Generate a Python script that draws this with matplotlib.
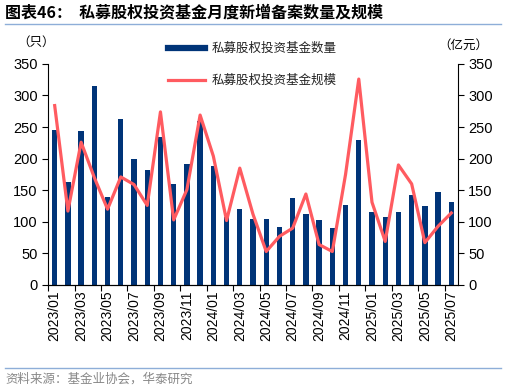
import numpy as np
import matplotlib.pyplot as plt
from matplotlib.lines import Line2D

plt.rcParams['font.family'] = ['Liberation Sans', 'Noto Sans CJK SC', 'DejaVu Sans']

months = ['2023/01', '2023/02', '2023/03', '2023/04', '2023/05', '2023/06', '2023/07', '2023/08',
          '2023/09', '2023/10', '2023/11', '2023/12', '2024/01', '2024/02', '2024/03', '2024/04',
          '2024/05', '2024/06', '2024/07', '2024/08', '2024/09', '2024/10', '2024/11', '2024/12',
          '2025/01', '2025/02', '2025/03', '2025/04', '2025/05', '2025/06', '2025/07']
count = [245, 163, 243, 315, 139, 262, 200, 182, 234, 160, 192, 259, 189, 107, 120, 104,
         104, 92, 137, 112, 103, 90, 126, 230, 115, 107, 115, 143, 125, 147, 131]
scale = [284, 117, 226, 170, 120, 171, 159, 126, 274, 103, 151, 269, 204, 102, 185, 112,
         53, 77, 90, 144, 64, 53, 175, 326, 131, 69, 190, 160, 67, 93, 114]

bar_color = '#003478'
line_color = '#FF5B60'
cjk = ['Noto Sans CJK SC', 'DejaVu Sans']

fig = plt.figure(figsize=(5.06, 3.92), dpi=100)
ax = fig.add_axes([0.095, 0.273, 0.81, 0.564])
ax2 = ax.twinx()

x = np.arange(len(months))
ax.bar(x, count, width=0.4, color=bar_color, zorder=2)
ax2.plot(x, scale, color=line_color, linewidth=2.3, zorder=3)

for a in (ax, ax2):
    a.set_ylim(0, 350)
    a.set_yticks(range(0, 351, 50))
    a.set_xlim(-0.5, len(months) - 0.5)
    a.spines['top'].set_visible(False)
    a.tick_params(axis='y', labelsize=10.5, length=4, direction='out')
ax.spines['right'].set_visible(False)
ax2.spines['left'].set_visible(False)
ax.set_zorder(ax2.get_zorder() - 1)
ax2.patch.set_visible(False)

ax.set_xticks(np.arange(-0.5, len(months), 2))
ax.set_xticklabels([])
ax.set_xticks(x[::2], minor=True)
ax.set_xticklabels(months[::2], minor=True, rotation=90, fontsize=10)
ax.tick_params(axis='x', which='major', length=4)
ax.tick_params(axis='x', which='minor', length=0, pad=4)

fig.text(0.035, 0.893, '（只）', fontsize=9, family=cjk, ha='left', va='center')
fig.text(0.965, 0.885, '（亿元）', fontsize=9, family=cjk, ha='right', va='center')

# legend drawn by hand in figure coords
fig.add_artist(Line2D([0.332, 0.405], [0.877, 0.877], color=bar_color, linewidth=4.5))
fig.text(0.418, 0.877, '私募股权投资基金数量', fontsize=9, family=cjk, va='center', color='#222222')
fig.add_artist(Line2D([0.332, 0.405], [0.795, 0.795], color=line_color, linewidth=2.3))
fig.text(0.418, 0.795, '私募股权投资基金规模', fontsize=9, family=cjk, va='center', color='#222222')

fig.text(0.01, 0.968, '图表46：  私募股权投资基金月度新增备案数量及规模', fontsize=11.5,
         fontweight='bold', family=cjk, ha='left', va='center')
fig.add_artist(Line2D([0.01, 0.99], [0.938, 0.938], color='#8EAED8', linewidth=1))

fig.add_artist(Line2D([0.01, 0.99], [0.061, 0.061], color='#8EAED8', linewidth=1))
fig.text(0.01, 0.032, '资料来源：基金业协会，华泰研究', fontsize=9, family=cjk,
         color='#888888', ha='left', va='center')

fig.savefig('out.png', dpi=100)
